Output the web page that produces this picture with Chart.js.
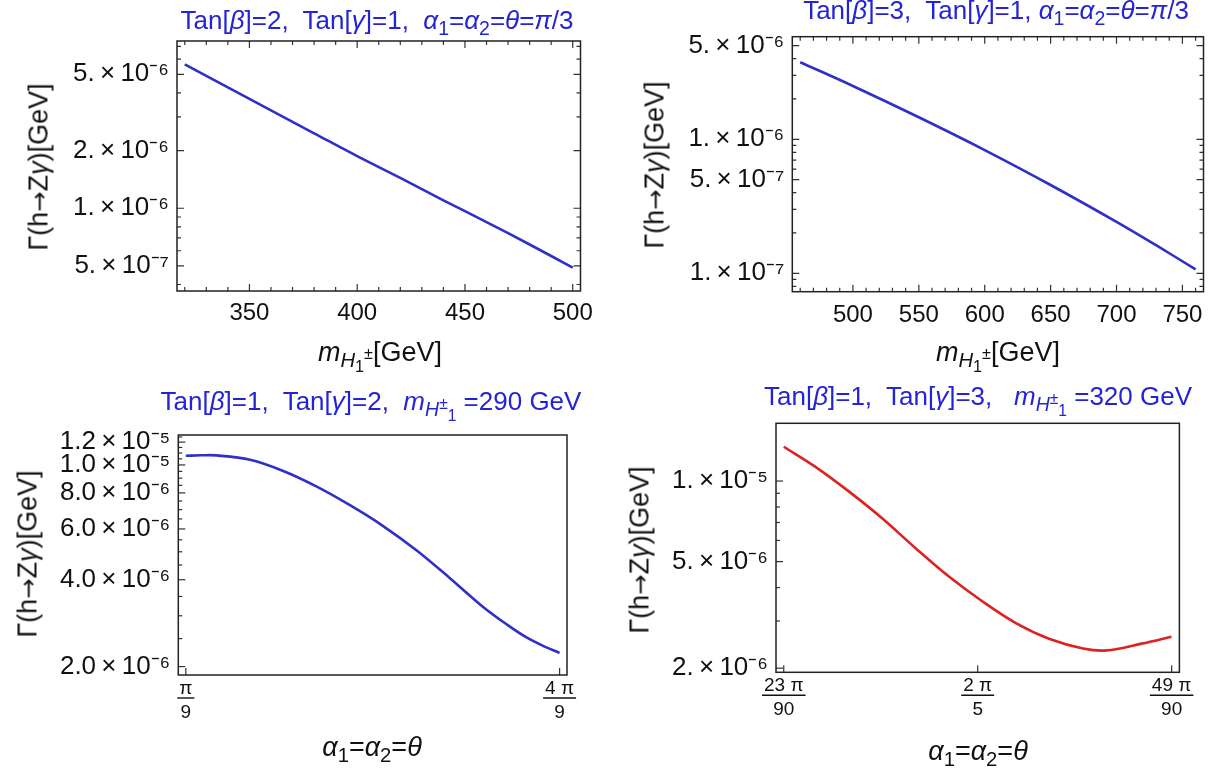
<!DOCTYPE html>
<html>
<head>
<meta charset="utf-8">
<script src="https://cdn.jsdelivr.net/npm/chart.js@4.4.1/dist/chart.umd.min.js"></script>
<style>
  body { margin: 0; background: #fff; }
  #page { position: relative; width: 1217px; height: 776px; overflow: hidden; font-family: "Liberation Sans", Arial, sans-serif; }
  canvas { position: absolute; }
  .lbl { position: absolute; white-space: nowrap; line-height: 1; transform: translateX(-50%); }
  .title { color: #2424d4; font-size: 26px; }
  .axis { color: #111; font-size: 27px; }
  .ylab { transform: translate(-50%, -50%) rotate(-90deg); }
  .arr { font-family: "DejaVu Sans", sans-serif; font-size: 0.9em; }
  sub, sup { font-size: 0.75em; line-height: 0; }
  sub sub, sub sup { font-size: 0.8em; }
</style>
</head>
<body>
<div id="page">
  <canvas id="c1" width="608" height="388" style="left:0;top:0"></canvas>
  <canvas id="c2" width="609" height="388" style="left:608px;top:0"></canvas>
  <canvas id="c3" width="608" height="388" style="left:0;top:388px"></canvas>
  <canvas id="c4" width="609" height="388" style="left:608px;top:388px"></canvas>

  <div class="lbl title" style="left:377px;top:7px">Tan[<i>β</i>]=2,&nbsp; Tan[<i>γ</i>]=1,&nbsp; <i>α</i><sub>1</sub>=<i>α</i><sub>2</sub>=<i>θ</i>=<i>π</i>/3</div>
  <div class="lbl title" style="left:996px;top:-3px">Tan[<i>β</i>]=3,&nbsp; Tan[<i>γ</i>]=1, <i>α</i><sub>1</sub>=<i>α</i><sub>2</sub>=<i>θ</i>=<i>π</i>/3</div>
  <div class="lbl title" style="left:371px;top:388px">Tan[<i>β</i>]=1,&nbsp; Tan[<i>γ</i>]=2,&nbsp; <i>m</i><sub><i>H</i><sup>±</sup><sub>1</sub></sub> =290 GeV</div>
  <div class="lbl title" style="left:978px;top:383px">Tan[<i>β</i>]=1,&nbsp; Tan[<i>γ</i>]=3,&nbsp;&nbsp; <i>m</i><sub><i>H</i><sup>±</sup><sub>1</sub></sub> =320 GeV</div>

  <div class="lbl axis" style="left:380px;top:339px"><i>m</i><sub><i>H</i><sub>1</sub><sup>±</sup></sub>[GeV]</div>
  <div class="lbl axis" style="left:998px;top:339px"><i>m</i><sub><i>H</i><sub>1</sub><sup>±</sup></sub>[GeV]</div>
  <div class="lbl axis" style="left:372px;top:734px"><i>α</i><sub>1</sub>=<i>α</i><sub>2</sub>=<i>θ</i></div>
  <div class="lbl axis" style="left:978px;top:738px"><i>α</i><sub>1</sub>=<i>α</i><sub>2</sub>=<i>θ</i></div>

  <div class="lbl axis ylab" style="left:39px;top:167px">Γ(h<span class="arr">→</span>Z<i>γ</i>)[GeV]</div>
  <div class="lbl axis ylab" style="left:655px;top:165px">Γ(h<span class="arr">→</span>Z<i>γ</i>)[GeV]</div>
  <div class="lbl axis ylab" style="left:28px;top:554px">Γ(h<span class="arr">→</span>Z<i>γ</i>)[GeV]</div>
  <div class="lbl axis ylab" style="left:640px;top:550px">Γ(h<span class="arr">→</span>Z<i>γ</i>)[GeV]</div>
</div>
<script>
// top left: Tan[β]=2, Tan[γ]=1, θ=π/3
const tlMass = [320, 340, 360, 380, 400, 420, 440, 460, 480, 500];
const tlWidth = [5.64e-6, 4.27e-6, 3.24e-6, 2.46e-6, 1.87e-6, 1.44e-6, 1.10e-6, 8.47e-7, 6.47e-7, 4.90e-7];
const tlXTicks = [350, 400, 450, 500];
const tlXLabels = ['350', '400', '450', '500'];
const tlYTicks = [5e-6, 2e-6, 1e-6, 5e-7];
const tlYLabels = ['5.\u2009×\u200910⁻⁶', '2.\u2009×\u200910⁻⁶', '1.\u2009×\u200910⁻⁶', '5.\u2009×\u200910⁻⁷'];

// top right: Tan[β]=3, Tan[γ]=1, θ=π/3
const trMass = [460, 500, 550, 600, 650, 700, 730, 760];
const trWidth = [3.76e-6, 2.50e-6, 1.46e-6, 8.31e-7, 4.56e-7, 2.42e-7, 1.62e-7, 1.07e-7];
const trXTicks = [500, 550, 600, 650, 700, 750];
const trXLabels = ['500', '550', '600', '650', '700', '750'];
const trYTicks = [5e-6, 1e-6, 5e-7, 1e-7];
const trYLabels = ['5.\u2009×\u200910⁻⁶', '1.\u2009×\u200910⁻⁶', '5.\u2009×\u200910⁻⁷', '1.\u2009×\u200910⁻⁷'];

// bottom left: Tan[β]=1, Tan[γ]=2, m = 290 GeV (theta in rad)
const blTheta = [0.349, 0.392, 0.436, 0.529, 0.622, 0.716, 0.809, 0.902, 0.996, 1.089, 1.182, 1.250, 1.300, 1.350, 1.396];
const blWidth = [1.076e-5, 1.080e-5, 1.079e-5, 1.042e-5, 9.53e-6, 8.41e-6, 7.25e-6, 6.14e-6, 5.05e-6, 4.05e-6, 3.22e-6, 2.79e-6, 2.54e-6, 2.36e-6, 2.23e-6];
const blXTicks = [Math.PI / 9, 4 * Math.PI / 9];
const blXLabels = [['π', '9'], ['4 π', '9']];
const blYTicks = [1.2e-5, 1.0e-5, 8e-6, 6e-6, 4e-6, 2e-6];
const blYLabels = ['1.2\u2009×\u200910⁻⁵', '1.0\u2009×\u200910⁻⁵', '8.0\u2009×\u200910⁻⁶', '6.0\u2009×\u200910⁻⁶', '4.0\u2009×\u200910⁻⁶', '2.0\u2009×\u200910⁻⁶'];

// bottom right: Tan[β]=1, Tan[γ]=3, m = 320 GeV
const brTheta = [0.803, 0.877, 0.955, 1.033, 1.112, 1.190, 1.269, 1.347, 1.425, 1.503, 1.558, 1.640, 1.710];
const brWidth = [1.343e-5, 1.13e-5, 9.15e-6, 7.26e-6, 5.60e-6, 4.39e-6, 3.54e-6, 2.94e-6, 2.57e-6, 2.37e-6, 2.33e-6, 2.47e-6, 2.62e-6];
const brXTicks = [23 * Math.PI / 90, 2 * Math.PI / 5, 49 * Math.PI / 90];
const brXLabels = [['23 π', '90'], ['2 π', '5'], ['49 π', '90']];
const brYTicks = [1e-5, 5e-6, 2e-6];
const brYLabels = ['1.\u2009×\u200910⁻⁵', '5.\u2009×\u200910⁻⁶', '2.\u2009×\u200910⁻⁶'];

const FONT = '"Liberation Sans", Arial, sans-serif';

function logMinors(min, max, majors) {
  const out = [];
  for (let e = Math.floor(Math.log10(min)); e <= Math.ceil(Math.log10(max)); e++) {
    for (let k = 1; k < 10; k++) {
      const v = k * Math.pow(10, e);
      if (v > min && v < max && !majors.some(m => Math.abs(m - v) / v < 1e-6)) out.push(v);
    }
  }
  return out;
}

const minorStep = (a, b, step, majors) => {
  const out = [];
  for (let v = Math.ceil(a / step) * step; v <= b; v += step) {
    if (!majors.some(m => Math.abs(m - v) < step / 100)) out.push(v);
  }
  return out;
};

// mathematica style frame with inward ticks
const frameTicks = {
  id: 'frameTicks',
  afterDatasetsDraw(chart, args, o) {
    const { ctx, chartArea: a } = chart;
    const xs = chart.scales.x, ys = chart.scales.y;
    ctx.save();
    ctx.strokeStyle = '#333';
    ctx.lineWidth = 1.2;
    const xTick = (v, len) => {
      const px = xs.getPixelForValue(v);
      ctx.beginPath();
      ctx.moveTo(px, a.bottom); ctx.lineTo(px, a.bottom - len);
      if (o.mirror) { ctx.moveTo(px, a.top); ctx.lineTo(px, a.top + len); }
      ctx.stroke();
    };
    const yTick = (v, len) => {
      const py = ys.getPixelForValue(v);
      ctx.beginPath();
      ctx.moveTo(a.left, py); ctx.lineTo(a.left + len, py);
      if (o.mirror) { ctx.moveTo(a.right, py); ctx.lineTo(a.right - len, py); }
      ctx.stroke();
    };
    xs.ticks.forEach(t => xTick(t.value, 7));
    ys.ticks.forEach(t => yTick(t.value, 7));
    (o.xMinor || []).forEach(v => xTick(v, 4));
    (o.yMinor || []).forEach(v => yTick(v, 4));

    ctx.lineWidth = 1.5;
    ctx.strokeStyle = '#222';
    ctx.strokeRect(a.left, a.top, a.right - a.left, a.bottom - a.top);

    if (o.fractions) {
      const f = xs.options.ticks.font;
      ctx.font = f.size + 'px ' + FONT;
      ctx.lineWidth = 1.4;
      ctx.strokeStyle = '#111';
      xs.ticks.forEach((t, i) => {
        const lines = o.fractions[i];
        const w = Math.max(...lines.map(s => ctx.measureText(s).width)) + 4;
        const px = xs.getPixelForValue(t.value);
        ctx.beginPath();
        ctx.moveTo(px - w / 2, a.bottom + o.barY);
        ctx.lineTo(px + w / 2, a.bottom + o.barY);
        ctx.stroke();
      });
    }
    ctx.restore();
  }
};

function panel(id, o) {
  return new Chart(document.getElementById(id), {
    type: 'line',
    data: {
      datasets: [{
        data: o.xs.map((v, i) => ({ x: v, y: o.ys[i] })),
        borderColor: o.color,
        borderWidth: 2.6,
        pointRadius: 0,
        tension: 0.35,
        fill: false
      }]
    },
    options: {
      responsive: false,
      animation: false,
      events: [],
      layout: { padding: o.pad },
      plugins: {
        legend: { display: false },
        tooltip: { enabled: false },
        frameTicks: o.frame
      },
      scales: {
        x: {
          type: 'linear', min: o.xMin, max: o.xMax, bounds: 'data',
          grid: { display: false, drawTicks: false },
          border: { display: false },
          afterBuildTicks: s => { s.ticks = o.xTicks.map(v => ({ value: v })); },
          afterFit: s => { s.height = o.xH; },
          ticks: {
            autoSkip: false, maxRotation: 0, padding: o.xPad, color: '#111',
            font: { family: FONT, size: o.xFont, lineHeight: 1.25 },
            callback: (v, i) => o.xLabels[i]
          }
        },
        y: {
          type: 'logarithmic', min: o.yMin, max: o.yMax, bounds: 'data',
          grid: { display: false, drawTicks: false },
          border: { display: false },
          afterBuildTicks: s => { s.ticks = o.yTicks.map(v => ({ value: v })); },
          afterFit: s => { s.width = o.yW; },
          ticks: {
            autoSkip: false, padding: 8, color: '#111',
            font: { family: FONT, size: 26 },
            callback: (v, i) => o.yLabels[i]
          }
        }
      }
    },
    plugins: [frameTicks]
  });
}

panel('c1', {
  xs: tlMass, ys: tlWidth, color: '#3030c8',
  xMin: 316.4, xMax: 503.6, yMin: 3.70e-7, yMax: 7.46e-6,
  xTicks: tlXTicks, xLabels: tlXLabels, yTicks: tlYTicks, yLabels: tlYLabels,
  pad: { left: 0, top: 41, right: 27.5, bottom: 0 }, yW: 177, xH: 97, xPad: 7, xFont: 24,
  frame: { mirror: true, xMinor: minorStep(316.4, 503.6, 10, tlXTicks), yMinor: logMinors(3.70e-7, 7.46e-6, tlYTicks) }
});

panel('c2', {
  xs: trMass, ys: trWidth, color: '#3030c8',
  xMin: 454, xMax: 766, yMin: 7.29e-8, yMax: 5.83e-6,
  xTicks: trXTicks, xLabels: trXLabels, yTicks: trYTicks, yLabels: trYLabels,
  pad: { left: 0, top: 36.7, right: 13.5, bottom: 0 }, yW: 184.3, xH: 96.3, xPad: 9, xFont: 24,
  frame: { mirror: true, xMinor: minorStep(454, 766, 10, trXTicks), yMinor: logMinors(7.29e-8, 5.83e-6, trYTicks) }
});

panel('c3', {
  xs: blTheta, ys: blWidth, color: '#3030c8',
  xMin: 0.328, xMax: 1.417, yMin: 1.87e-6, yMax: 1.27e-5,
  xTicks: blXTicks, xLabels: blXLabels, yTicks: blYTicks, yLabels: blYLabels,
  pad: { left: 0, top: 47, right: 41, bottom: 0 }, yW: 178.3, xH: 101, xPad: 2, xFont: 19,
  frame: { mirror: false, yMinor: minorStep(1.87e-6, 1.27e-5, 5e-7, blYTicks), fractions: blXLabels, barY: 23 }
});

panel('c4', {
  xs: brTheta, ys: brWidth, color: '#dd2222',
  xMin: 0.7847, xMax: 1.7286, yMin: 1.93e-6, yMax: 1.643e-5,
  xTicks: brXTicks, xLabels: brXLabels, yTicks: brYTicks, yLabels: brYLabels,
  pad: { left: 0, top: 35.3, right: 37.6, bottom: 0 }, yW: 168, xH: 103.7, xPad: 2, xFont: 19,
  frame: { mirror: false, yMinor: logMinors(1.93e-6, 1.643e-5, brYTicks), fractions: brXLabels, barY: 23 }
});
</script>
</body>
</html>
